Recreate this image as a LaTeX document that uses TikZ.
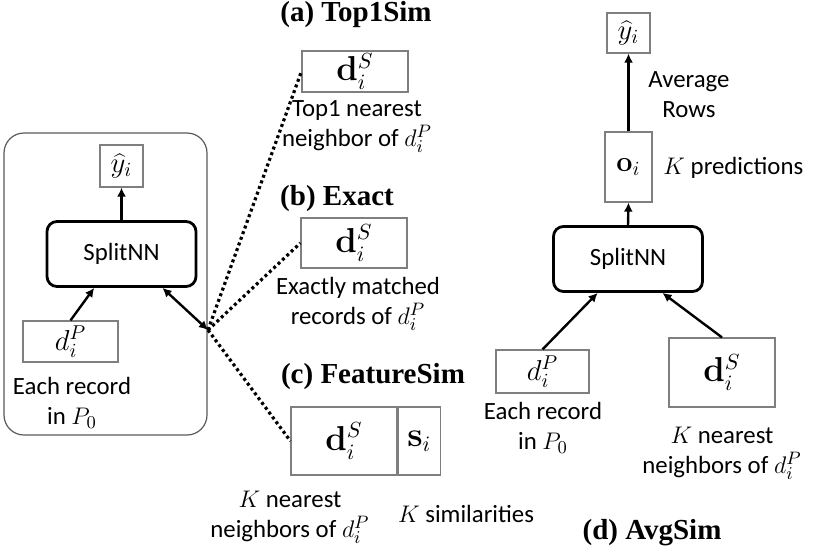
\documentclass[tikz,border=0pt]{standalone}
\usepackage[no-math]{fontspec}
\setmainfont{Carlito}
\newfontfamily\titlefont{Liberation Serif}
\usetikzlibrary{arrows.meta,positioning,calc}
\definecolor{boxgray}{HTML}{7F7F7F}
\definecolor{framegray}{HTML}{595959}

\begin{document}
\begin{tikzpicture}[
    x=0.5pt, y=-0.5pt,
    every node/.style={font=\fontsize{12.4}{15}\selectfont},
    box/.style={
        draw=boxgray,
        line width=0.6pt,
        inner sep=0pt,
        font=\fontsize{14}{16}\selectfont
    },
    nnbox/.style={
        draw,
        line width=1.4pt,
        rounded corners=5pt,
        minimum width=74.5pt,
        minimum height=32.5pt,
        inner sep=0pt
    },
    frame/.style={
        draw=framegray,
        line width=0.6pt,
        rounded corners=10pt,
        minimum width=101.5pt,
        minimum height=151pt
    },
    lbl/.style={
        align=center,
        inner sep=0pt
    },
    title/.style={
        font=\titlefont\fontsize{14.5}{17}\selectfont\bfseries,
        inner sep=0pt
    },
    arrow/.style={
        line width=1.2pt,
        -{Latex[length=4.5pt,width=4.5pt]}
    },
    link/.style={
        line width=1.6pt,
        dash pattern=on 1.5pt off 1.5pt
    }
]
\useasboundingbox (0,0) rectangle (822,552);

% left: SplitNN with the matched record
\node[frame] (frame) at (105.5,284) {};
\node[box, minimum width=21.5pt, minimum height=21pt] (yhatL) at (121.5,166) {$\widehat{y}_i$};
\node[nnbox] (nnL) at (121.5,254) {SplitNN};
\node[box, minimum width=47.5pt, minimum height=20.5pt] (dPL) at (70.5,341.5) {$d_i^P$};
\node[lbl] (eachL) at (72,403) {Each record\\in $P_0$};
\coordinate (J) at (208,330);

\draw[arrow] (nnL.north) -- (yhatL.south);
\draw[arrow] (dPL.north) -- ($(nnL.south west)!0.32!(nnL.south east)$);
\draw[arrow, {Latex[length=4.5pt,width=4.5pt]}-{Latex[length=4.5pt,width=4.5pt]}]
    (J) -- ($(nnL.south west)!0.77!(nnL.south east)$);

% (a) Top1Sim
\node[title] (titleA) at (356,15) {(a) Top1Sim};
\node[box, minimum width=53pt, minimum height=20.5pt,
      font=\fontsize{16}{18}\selectfont] (top1) at (355,71.5) {$\mathbf{d}_i^S$};
\node[lbl] (top1L) at (357,126.5) {Top1 nearest\\neighbor of $d_i^P$};

% (b) Exact
\node[title] (titleB) at (337,199) {(b) Exact};
\node[box, minimum width=53pt, minimum height=25pt,
      font=\fontsize{16}{18}\selectfont] (exact) at (354,243) {$\mathbf{d}_i^S$};
\node[lbl] (exactL) at (358,304) {Exactly matched\\records of $d_i^P$};

% (c) FeatureSim
\node[title] (titleC) at (373,377) {(c) FeatureSim};
\node[box, minimum width=53pt, minimum height=34pt,
      font=\fontsize{16}{18}\selectfont] (fdS) at (344,441) {$\mathbf{d}_i^S$};
\node[box, minimum width=21pt, minimum height=34pt, right=0pt of fdS,
      font=\fontsize{16}{18}\selectfont] (fs) {$\mathbf{s}_i$};
\node[lbl] (fdSL) at (290,517.5) {$K$ nearest\\neighbors of $d_i^P$};
\node[lbl] (fsL) at (466,514) {$K$ similarities};

\draw[link] (J) -- (top1.west);
\draw[link] (J) -- (exact.west);
\draw[link] (J) -- (fdS.west);

% (d) AvgSim
\node[box, minimum width=21.5pt, minimum height=20pt] (yhatR) at (628.5,33) {$\widehat{y}_i$};
\node[box, minimum width=23.5pt, minimum height=35pt] (oR) at (628.5,167) {$\mathbf{o}_i$};
\node[nnbox] (nnR) at (628,259) {SplitNN};
\node[box, minimum width=46.5pt, minimum height=21.5pt] (dPR) at (542.5,371.5) {$d_i^P$};
\node[box, minimum width=53pt, minimum height=34.5pt,
      font=\fontsize{16}{18}\selectfont] (dSR) at (722,372.5) {$\mathbf{d}_i^S$};
\node[lbl, anchor=west] (avgL) at (648,95) {Average\\Rows};
\node[lbl, anchor=west] (predL) at (663,168) {$K$ predictions};
\node[lbl] (eachR) at (543,428) {Each record\\in $P_0$};
\node[lbl] (knnR) at (722,453.5) {$K$ nearest\\neighbors of $d_i^P$};
\node[title] (titleD) at (652,533) {(d) AvgSim};

\draw[arrow] (oR.north) -- (yhatR.south);
\draw[arrow] (nnR.north) -- (oR.south);
\draw[arrow] (dPR.north) -- ($(nnR.south west)!0.3!(nnR.south east)$);
\draw[arrow] (dSR.north) -- ($(nnR.south west)!0.727!(nnR.south east)$);

\end{tikzpicture}
\end{document}
